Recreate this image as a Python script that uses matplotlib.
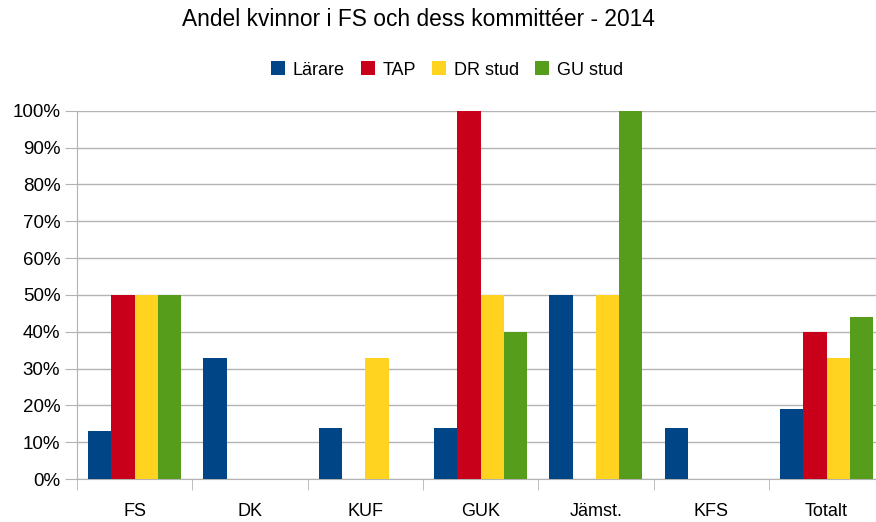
import numpy as np
import matplotlib.pyplot as plt
from matplotlib.ticker import PercentFormatter

plt.rcParams['font.family'] = ['Liberation Sans', 'DejaVu Sans']

categories = ['FS', 'DK', 'KUF', 'GUK', 'Jämst.', 'KFS', 'Totalt']
series = ['Lärare', 'TAP', 'DR stud', 'GU stud']
larare = [13, 33, 14, 14, 50, 14, 19]
tap = [50, 0, 0, 100, 0, 0, 40]
dr_stud = [50, 0, 33, 50, 50, 0, 33]
gu_stud = [50, 0, 0, 40, 100, 0, 44]
colors = ['#004586', '#c9001a', '#ffd320', '#579d1c']

fig = plt.figure(figsize=(8.76, 5.22), dpi=100)
# plot area runs a little past the right edge of the picture, as in the original
ax = fig.add_axes([0.0879, 0.082, 0.9215, 0.706])

x = np.arange(len(categories))
w = 0.2016
for i, (vals, name) in enumerate(zip([larare, tap, dr_stud, gu_stud], series)):
    ax.bar(x + (i - 1.5) * w, vals, width=w, color=colors[i], label=name, zorder=3)

ax.set_xlim(-0.5, len(categories) - 0.5)
ax.set_ylim(0, 100)
ax.set_yticks(np.arange(0, 101, 10))
ax.yaxis.set_major_formatter(PercentFormatter(decimals=0))
ax.grid(axis='y', color='#b3b3b3', lw=1, zorder=0)

# category labels at centres, tick marks at boundaries
ax.set_xticks(x)
ax.set_xticklabels(categories, fontsize=13)
ax.tick_params(axis='x', length=0, pad=17)
ax.set_xticks(np.arange(-0.5, len(categories) - 0.4, 1), minor=True)
ax.tick_params(axis='x', which='minor', length=8, color='#b3b3b3')
ax.tick_params(axis='y', length=9, color='#b3b3b3', labelsize=13.5, pad=3)

for s in ['top', 'right']:
    ax.spines[s].set_visible(False)
for s in ['left', 'bottom']:
    ax.spines[s].set_color('#b3b3b3')

fig.text(0.478, 0.962, 'Andel kvinnor i FS och dess kommittéer - 2014',
         fontsize=16.4, ha='center', va='center')
fig.legend(loc='center', bbox_to_anchor=(0.51, 0.866), ncol=4, frameon=False,
           fontsize=13, handlelength=0.8, handleheight=0.8, handletextpad=0.4,
           columnspacing=0.9)

fig.savefig('out.png', dpi=100)
